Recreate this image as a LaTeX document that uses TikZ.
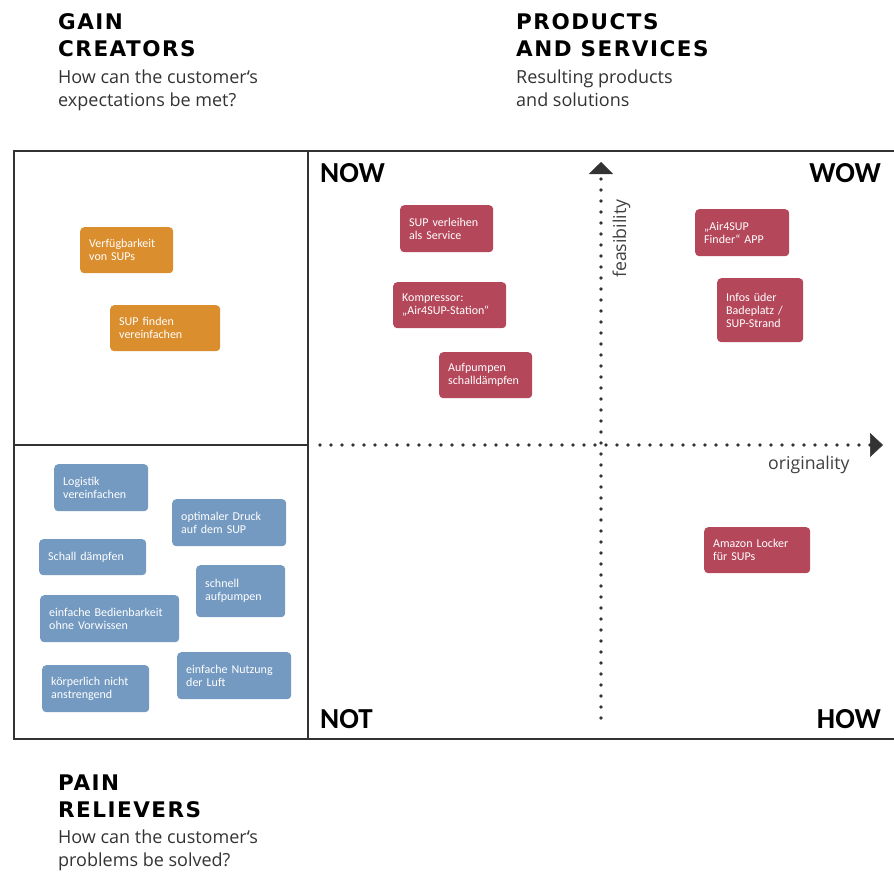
\documentclass[tikz,border=0pt]{standalone}
\usepackage{fontspec}
\setmainfont{Open Sans}
\newfontfamily\notefont{Carlito}
\newfontfamily\headfont[LetterSpace=7]{DejaVu Sans}
\usepackage{tikz}
\usetikzlibrary{arrows.meta}
\definecolor{gaincol}{RGB}{219,142,46}
\definecolor{prodcol}{RGB}{181,71,91}
\definecolor{paincol}{RGB}{116,154,193}
\definecolor{framecol}{RGB}{51,51,51}

\begin{document}
\begin{tikzpicture}[x = 1pt, y = -1pt,
    notebox/.style = {rounded corners = 4pt, anchor = north west, align = left, inner xsep = 9pt, inner ysep = 2pt, text = white, font = \notefont\fontsize{12}{13}\selectfont},
    titlebox/.style = {anchor = north west, inner sep = 0pt, align = left, font = \headfont\bfseries\fontsize{21.5}{27}\selectfont},
    subbox/.style = {anchor = north west, inner sep = 0pt, align = left, text = black!80, font = \fontsize{18}{23}\selectfont},
    cornerbox/.style = {inner sep = 0pt, font = \notefont\bfseries\fontsize{29}{29}\selectfont},
    axislabel/.style = {inner sep = 0pt, text = black!75, font = \fontsize{17.7}{18}\selectfont},
    axis/.style = {framecol, line width = 3.8pt, line cap = round, dash pattern = on 0pt off 11pt}]
    \useasboundingbox (0,0) rectangle (894,873);
    % Parametri
    \pgfmathsetmacro{\xl}{14};
    \pgfmathsetmacro{\xm}{308};
    \pgfmathsetmacro{\xr}{894};
    \pgfmathsetmacro{\yt}{151};
    \pgfmathsetmacro{\ym}{445};
    \pgfmathsetmacro{\yb}{739};
    \pgfmathsetmacro{\xo}{601};
    % Titoli
    \node[titlebox] (gain) at (58,13) {GAIN\\CREATORS};
    \node[subbox] (gainsub) at (58,70) {How can the customer‘s\\expectations be met?};
    \node[titlebox] (prod) at (516,13) {PRODUCTS\\AND SERVICES};
    \node[subbox] (prodsub) at (516,70) {Resulting products\\and solutions};
    \node[titlebox] (pain) at (58,775) {PAIN\\RELIEVERS};
    \node[subbox] (painsub) at (58,830) {How can the customer‘s\\problems be solved?};
    % Cornice
    \draw[framecol, line width = 2.5pt] (\xr,\yt) -- (\xl,\yt) -- (\xl,\yb) -- (\xr,\yb);
    \draw[framecol, line width = 2.5pt] (\xm,\yt) -- (\xm,\yb);
    \draw[framecol, line width = 2.5pt] (\xl,\ym) -- (\xm,\ym);
    % Assi
    \coordinate (ybot) at (\xo,718);
    \coordinate (ytop) at (\xo,162);
    \coordinate (xleft) at (320,\ym);
    \coordinate (xright) at (883,\ym);
    \draw[axis, -{Triangle[length = 12pt, width = 24pt, line width = 0.5pt]}] (ybot) -- (ytop);
    \draw[axis, -{Triangle[length = 13pt, width = 24pt, line width = 0.5pt]}] (xleft) -- (xright);
    \node[axislabel, rotate = 90, anchor = base west] (feas) at (626,278) {feasibility};
    \node[axislabel, anchor = base west] (orig) at (768,469) {originality};
    % Quadranti
    \node[cornerbox, anchor = base west] (now) at (320,182) {NOW};
    \node[cornerbox, anchor = base east] (wow) at (881,182) {WOW};
    \node[cornerbox, anchor = base west] (not) at (320,728) {NOT};
    \node[cornerbox, anchor = base east] (how) at (881,728) {HOW};
    % Gain creators
    \node[notebox, fill = gaincol, text width = 75pt, minimum height = 46pt] (verf) at (80,227) {Verfügbarkeit\\von SUPs};
    \node[notebox, fill = gaincol, text width = 92pt, minimum height = 46pt] (finden) at (110,305) {SUP finden\\vereinfachen};
    % Products and services
    \node[notebox, fill = prodcol, text width = 75pt, minimum height = 47pt] (verleih) at (400,205) {SUP verleihen\\als Service};
    \node[notebox, fill = prodcol, text width = 95pt, minimum height = 46pt] (kompr) at (393,282) {Kompressor:\\„Air4SUP-Station“};
    \node[notebox, fill = prodcol, text width = 75pt, minimum height = 46pt] (aufp) at (439,352) {Aufpumpen\\schalldämpfen};
    \node[notebox, fill = prodcol, text width = 76pt, minimum height = 47pt] (finder) at (695,209) {„Air4SUP\\Finder“ APP};
    \node[notebox, fill = prodcol, text width = 68pt, minimum height = 64pt] (infos) at (717,278) {Infos üder\\Badeplatz /\\SUP-Strand};
    \node[notebox, fill = prodcol, text width = 88pt, minimum height = 46pt] (locker) at (704,527) {Amazon Locker\\für SUPs};
    % Pain relievers
    \node[notebox, fill = paincol, text width = 76pt, minimum height = 47pt] (logistik) at (54,464) {Logistik\\vereinfachen};
    \node[notebox, fill = paincol, text width = 96pt, minimum height = 47pt] (druck) at (172,499) {optimaler Druck\\auf dem SUP};
    \node[notebox, fill = paincol, text width = 89pt, minimum height = 36pt] (schall) at (39,539) {Schall dämpfen};
    \node[notebox, fill = paincol, text width = 71pt, minimum height = 52pt] (schnell) at (196,565) {schnell\\aufpumpen};
    \node[notebox, fill = paincol, text width = 121pt, minimum height = 47pt] (bedien) at (40,595) {einfache Bedienbarkeit\\ohne Vorwissen};
    \node[notebox, fill = paincol, text width = 89pt, minimum height = 47pt] (koerper) at (42,665) {körperlich nicht\\anstrengend};
    \node[notebox, fill = paincol, text width = 96pt, minimum height = 47pt] (nutzung) at (177,652) {einfache Nutzung\\der Luft};
\end{tikzpicture}
\end{document}
